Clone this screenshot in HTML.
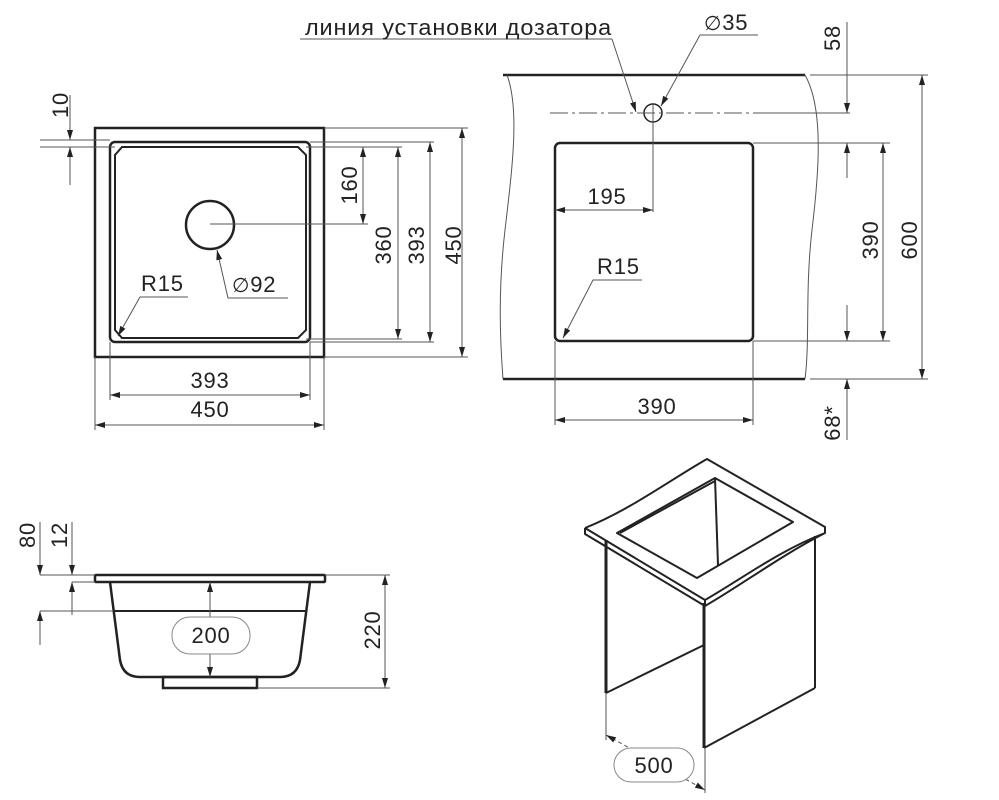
<!DOCTYPE html>
<html><head><meta charset="utf-8"><style>
html,body{margin:0;padding:0;background:#fff;}
svg{display:block;}
text{font-family:"Liberation Sans","DejaVu Sans",sans-serif;fill:#222;letter-spacing:0.8px;}
</style></head><body>
<svg width="999" height="800" viewBox="0 0 999 800" xmlns="http://www.w3.org/2000/svg">
<defs>
<marker id="a" viewBox="0 0 10 6" refX="10" refY="3" markerWidth="10" markerHeight="6" orient="auto-start-reverse" markerUnits="userSpaceOnUse"><path d="M0,0 L10,3 L0,6 z" fill="#222"/></marker>
</defs>
<g fill="none" stroke="#222" stroke-linecap="round">
<rect x="95" y="128" width="229" height="229" stroke-width="2.5"/>
<rect x="110" y="142" width="200" height="200" rx="5" stroke-width="2.5"/>
<path d="M122,147 L298,147 L306,155 L306,330 L298,338 L122,338 L115,330 L115,155 Z" stroke-width="2"/>
<circle cx="210" cy="225" r="24" stroke-width="2.5"/>
</g>
<g fill="none" stroke="#555" stroke-width="1">
<line x1="210" y1="224" x2="368" y2="224"/>
<line x1="324" y1="128" x2="468" y2="128"/>
<line x1="310" y1="142" x2="434" y2="142"/>
<line x1="306" y1="147" x2="402" y2="147"/>
<line x1="306" y1="339" x2="402" y2="339"/>
<line x1="310" y1="342" x2="434" y2="342"/>
<line x1="324" y1="357" x2="468" y2="357"/>
<line x1="40" y1="140" x2="110" y2="140"/>
<line x1="40" y1="147" x2="115" y2="147"/>
<line x1="70" y1="95" x2="70" y2="140" marker-end="url(#a)"/>
<line x1="70" y1="147" x2="70" y2="185" marker-start="url(#a)"/>
<line x1="363" y1="147" x2="363" y2="224" marker-start="url(#a)" marker-end="url(#a)"/>
<line x1="398" y1="147" x2="398" y2="339" marker-start="url(#a)" marker-end="url(#a)"/>
<line x1="430" y1="142" x2="430" y2="342" marker-start="url(#a)" marker-end="url(#a)"/>
<line x1="462" y1="128" x2="462" y2="357" marker-start="url(#a)" marker-end="url(#a)"/>
<line x1="95" y1="357" x2="95" y2="430"/>
<line x1="324" y1="357" x2="324" y2="430"/>
<line x1="110" y1="342" x2="110" y2="400"/>
<line x1="310" y1="342" x2="310" y2="400"/>
<line x1="110" y1="395" x2="310" y2="395" marker-start="url(#a)" marker-end="url(#a)"/>
<line x1="95" y1="425" x2="324" y2="425" marker-start="url(#a)" marker-end="url(#a)"/>
<polyline points="188,297 140,297 118,336" marker-end="url(#a)"/>
<polyline points="288,298 228,298 217,250" marker-end="url(#a)"/>
</g>
<g font-size="22">
<text x="210" y="388" text-anchor="middle">393</text>
<text x="210" y="417" text-anchor="middle">450</text>
<text x="141" y="291">R15</text>
<text x="232" y="292"><tspan font-family="DejaVu Sans" font-size="20">∅</tspan>92</text>
<text transform="translate(68,105) rotate(-90)" text-anchor="middle">10</text>
<text transform="translate(357,185) rotate(-90)" text-anchor="middle">160</text>
<text transform="translate(391,245) rotate(-90)" text-anchor="middle">360</text>
<text transform="translate(424,245) rotate(-90)" text-anchor="middle">393</text>
<text transform="translate(461,245) rotate(-90)" text-anchor="middle">450</text>
</g>

<g fill="none" stroke="#222">
<line x1="503" y1="75" x2="805" y2="75" stroke-width="2.5"/>
<line x1="503" y1="379" x2="805" y2="379" stroke-width="2.5"/>
<rect x="555" y="143" width="198" height="198" rx="5" stroke-width="2.5"/>
<circle cx="653" cy="113" r="9" stroke-width="1.5"/>
</g>
<g fill="none" stroke="#555" stroke-width="1">
<path d="M507,75 C520,110 512,170 505,230 C498,290 500,340 503,379"/>
<path d="M805,75 C825,110 818,180 812,230 C805,290 810,340 805,379"/>
<line x1="550" y1="113" x2="757" y2="113" stroke-dasharray="18,4,3,4"/>
<line x1="653" y1="104" x2="653" y2="212"/>
<line x1="555" y1="210" x2="653" y2="210" marker-start="url(#a)" marker-end="url(#a)"/>
<polyline points="642,280 593,280 563,338" marker-end="url(#a)"/>
<line x1="555" y1="341" x2="555" y2="425"/>
<line x1="753" y1="341" x2="753" y2="425"/>
<line x1="555" y1="420" x2="753" y2="420" marker-start="url(#a)" marker-end="url(#a)"/>
<line x1="300" y1="39" x2="612" y2="39"/>
<line x1="612" y1="39" x2="636" y2="112" marker-end="url(#a)"/>
<line x1="758" y1="35" x2="700" y2="35"/>
<line x1="700" y1="35" x2="661" y2="106" marker-end="url(#a)"/>
<line x1="810" y1="75" x2="928" y2="75"/>
<line x1="757" y1="113" x2="850" y2="113"/>
<line x1="753" y1="143" x2="890" y2="143"/>
<line x1="753" y1="341" x2="890" y2="341"/>
<line x1="810" y1="379" x2="928" y2="379"/>
<line x1="847" y1="22" x2="847" y2="113" marker-end="url(#a)"/>
<line x1="847" y1="143" x2="847" y2="178" marker-start="url(#a)"/>
<line x1="847" y1="305" x2="847" y2="341" marker-end="url(#a)"/>
<line x1="847" y1="379" x2="847" y2="440" marker-start="url(#a)"/>
<line x1="883" y1="143" x2="883" y2="341" marker-start="url(#a)" marker-end="url(#a)"/>
<line x1="922" y1="75" x2="922" y2="379" marker-start="url(#a)" marker-end="url(#a)"/>
</g>
<g font-size="22">
<text x="305" y="35" textLength="307" lengthAdjust="spacingAndGlyphs">линия установки дозатора</text>
<text x="704" y="30"><tspan font-family="DejaVu Sans" font-size="20">∅</tspan>35</text>
<text x="607" y="204" text-anchor="middle">195</text>
<text x="597" y="274">R15</text>
<text x="657" y="414" text-anchor="middle">390</text>
<text transform="translate(840,38) rotate(-90)" text-anchor="middle">58</text>
<text transform="translate(840,423) rotate(-90)" text-anchor="middle">68*</text>
<text transform="translate(878,240) rotate(-90)" text-anchor="middle">390</text>
<text transform="translate(917,240) rotate(-90)" text-anchor="middle">600</text>
</g>

<g fill="none" stroke="#222" stroke-width="2.5">
<rect x="95" y="575" width="230" height="7" rx="1"/>
<path d="M110,582 L120,660 Q123,677 140,677 L280,677 Q297,677 300,660 L310,582"/>
<line x1="113" y1="611" x2="307" y2="611" stroke-width="2"/>
<rect x="163" y="677" width="94" height="11"/>
</g>
<g fill="none" stroke="#555" stroke-width="1">
<line x1="210" y1="582" x2="210" y2="677" marker-start="url(#a)" marker-end="url(#a)"/>
<rect x="172" y="617" width="78" height="37" rx="18" fill="#fff" stroke="#888"/>
<line x1="325" y1="575" x2="390" y2="575"/>
<line x1="257" y1="688" x2="390" y2="688"/>
<line x1="385" y1="575" x2="385" y2="688" marker-start="url(#a)" marker-end="url(#a)"/>
<line x1="40" y1="575" x2="95" y2="575"/>
<line x1="72" y1="582" x2="95" y2="582"/>
<line x1="40" y1="611" x2="113" y2="611"/>
<line x1="40" y1="522" x2="40" y2="575" marker-end="url(#a)"/>
<line x1="40" y1="611" x2="40" y2="645" marker-start="url(#a)"/>
<line x1="72" y1="522" x2="72" y2="575" marker-end="url(#a)"/>
<line x1="72" y1="582" x2="72" y2="615" marker-start="url(#a)"/>
</g>
<g font-size="22">
<text x="211" y="643" text-anchor="middle">200</text>
<text transform="translate(380,630) rotate(-90)" text-anchor="middle">220</text>
<text transform="translate(35,535) rotate(-90)" text-anchor="middle">80</text>
<text transform="translate(67,535) rotate(-90)" text-anchor="middle">12</text>
</g>

<g fill="none" stroke="#222" stroke-width="2" stroke-linejoin="round">
<path d="M585,528 C630,510 670,480 707,459 L825,527 L825,533 C780,550 740,580 705,600 L705,606 C740,586 780,556 825,533 M585,528 L585,534 L705,606 M585,528 L705,600"/>
<path d="M617,533 L715,478 L793,522 L697,578 Z"/>
<path d="M620,533 L715,481 M715,478 L718,565"/>
<line x1="606" y1="540" x2="606" y2="693" stroke-width="3"/>
<line x1="704" y1="603" x2="704" y2="748" stroke-width="3"/>
<line x1="815" y1="536" x2="815" y2="688"/>
<line x1="704" y1="748" x2="815" y2="688"/>
<line x1="606" y1="693" x2="704" y2="645"/>
</g>
<g fill="none" stroke="#555" stroke-width="1">
<line x1="606" y1="693" x2="606" y2="740"/>
<line x1="705" y1="748" x2="705" y2="793"/>
<line x1="606" y1="735" x2="705" y2="790" stroke-dasharray="4,3" marker-start="url(#a)" marker-end="url(#a)"/>
<rect x="614" y="748" width="80" height="34" rx="17" fill="#fff" stroke="#888"/>
</g>
<text x="654" y="773" font-size="22" text-anchor="middle">500</text>
</svg>
</body></html>
